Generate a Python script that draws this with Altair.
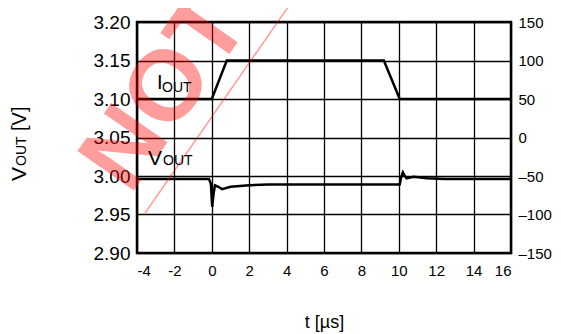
import altair as alt
import pandas as pd

# ---- data ----
t_vout = [-4, -0.15, -0.05, 0.02, 0.1, 0.17, 0.35, 0.55, 1.0, 2.0, 3.0, 6.0,
          10.05, 10.12, 10.22, 10.32, 10.42, 10.6, 10.8, 11.5, 12.5, 16]
v_out = [2.996, 2.996, 2.990, 2.960, 2.978, 2.988, 2.986, 2.983, 2.986, 2.988,
         2.9888, 2.989, 2.989, 2.998, 3.0048, 3.000, 2.997, 2.998, 2.999, 2.997,
         2.9962, 2.9962]

t_iout = [-4, 0, 0.8, 9.2, 10.05, 16]
i_out = [50, 50, 100, 100, 50, 50]

x_ticks = [-4, -2, 0, 2, 4, 6, 8, 10, 12, 14, 16]
v_ticks = [2.90, 2.95, 3.00, 3.05, 3.10, 3.15, 3.20]
i_ticks = [-150, -100, -50, 0, 50, 100, 150]

wm_text = ["NOT RECOMMENDED FOR NEW DESIGNS"]
wm_t = [-4.374]
wm_v = [2.974]
wm_line_t = [-3.57, 4.8]
wm_line_v = [2.952, 3.2447]

FONT = "Liberation Sans"

df_v = pd.DataFrame({"t": t_vout, "v": v_out})
df_i = pd.DataFrame({"t": t_iout, "i": i_out})
df_wm = pd.DataFrame({"t": wm_t, "v": wm_v, "label": wm_text})
df_wl = pd.DataFrame({"t": wm_line_t, "v": wm_line_v})

x_axis = alt.Axis(values=x_ticks, grid=True, labelExpr="'' + datum.value",
                  labelFontSize=15, labelPadding=10, title="t [µs]",
                  titleFontSize=18, titleFontWeight="normal",
                  titleY=74, titleBaseline="alphabetic")
x_scale = alt.Scale(domain=[-4, 16], nice=False)


def xe():
    return alt.X("t:Q", scale=x_scale, axis=x_axis)


vout_line = alt.Chart(df_v).mark_line(color="black", strokeWidth=2.5).encode(
    x=xe(),
    y=alt.Y("v:Q", scale=alt.Scale(domain=[2.90, 3.20], nice=False, zero=False),
            axis=alt.Axis(values=v_ticks, format=".2f", grid=True, title=None,
                          labelFontSize=19, labelPadding=7)),
)

iout_line = alt.Chart(df_i).mark_line(color="black", strokeWidth=2.5).encode(
    x=xe(),
    y=alt.Y("i:Q", scale=alt.Scale(domain=[-150, 150], nice=False),
            axis=alt.Axis(orient="right", values=i_ticks, grid=False, title=None,
                          labelFontSize=15, labelPadding=7,
                          labelExpr="datum.value < 0 ? '–' + abs(datum.value) : '' + datum.value")),
)

wm_scale = alt.Scale(domain=[2.90, 3.20], nice=False, zero=False)
wm_txt = alt.Chart(df_wm).mark_text(
    font=FONT, fontSize=100, fontWeight="bold", angle=305, align="left",
    baseline="alphabetic", color="red", opacity=0.38,
).encode(x=xe(), y=alt.Y("v:Q", scale=wm_scale, axis=None), text="label:N")
wm_ln = alt.Chart(df_wl).mark_line(color="red", opacity=0.38, strokeWidth=1.5).encode(
    x=xe(), y=alt.Y("v:Q", scale=wm_scale, axis=None))


def label(txt, x, y, size, angle=0):
    return alt.Chart(pd.DataFrame({"a": [0]})).mark_text(
        text=txt, font=FONT, fontSize=size, align="left", baseline="alphabetic",
        color="black", angle=angle,
    ).encode(x=alt.value(x), y=alt.value(y))


labels = alt.layer(
    label("I", 20, 67, 20),
    label("OUT", 25, 70, 14),
    label("V", 11, 143, 21),
    label("OUT", 26, 143, 14),
    label("V", -111, 159, 21, 270),
    label("OUT", -111, 144, 14, 270),
    label("[V]", -111, 109, 20, 270),
)

wm = alt.layer(wm_txt, wm_ln)

chart = alt.layer(vout_line, iout_line, wm, labels).resolve_scale(y="independent").properties(
    width=374, height=231,
    autosize=alt.AutoSizeParams(type="none"),
    padding={"left": 129, "top": 14, "right": 42, "bottom": 81},
).configure_view(stroke="black", strokeWidth=2.5).configure_axis(
    labelFont=FONT, titleFont=FONT, labelColor="black", titleColor="black",
    gridColor="black", gridWidth=1.3, gridOpacity=1, domain=False, ticks=False,
)

chart.save("out.html", embed_options={"renderer": "svg", "actions": False})
